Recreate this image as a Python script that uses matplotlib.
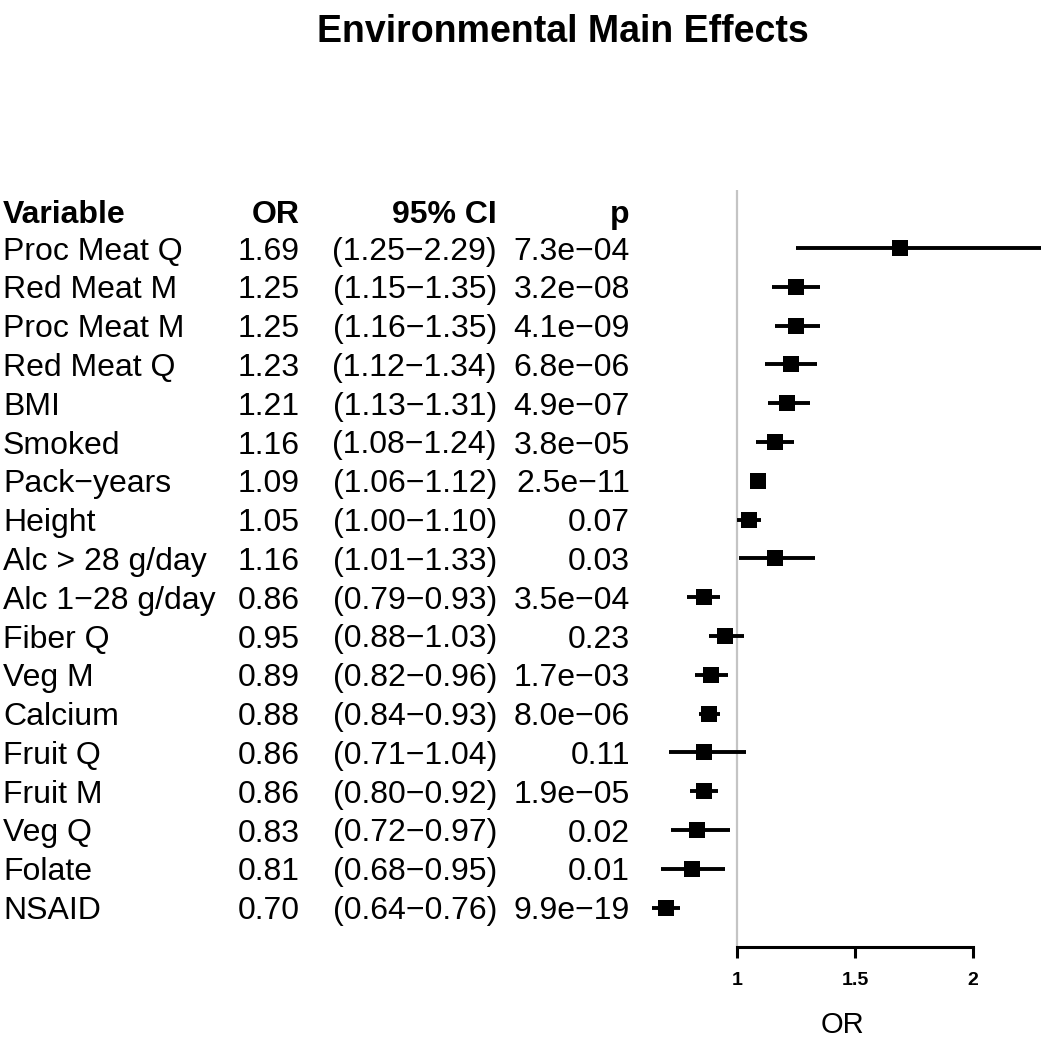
import matplotlib
matplotlib.use('Agg')
import matplotlib.pyplot as plt
import matplotlib.transforms as mtransforms

plt.rcParams['font.family'] = ['Liberation Sans', 'DejaVu Sans']

variables = ['Proc Meat Q', 'Red Meat M', 'Proc Meat M', 'Red Meat Q', 'BMI', 'Smoked',
             'Pack\u2212years', 'Height', 'Alc > 28 g/day', 'Alc 1\u221228 g/day', 'Fiber Q',
             'Veg M', 'Calcium', 'Fruit Q', 'Fruit M', 'Veg Q', 'Folate', 'NSAID']
odds = [1.69, 1.25, 1.25, 1.23, 1.21, 1.16, 1.09, 1.05, 1.16, 0.86, 0.95, 0.89, 0.88,
        0.86, 0.86, 0.83, 0.81, 0.70]
lower = [1.25, 1.15, 1.16, 1.12, 1.13, 1.08, 1.06, 1.00, 1.01, 0.79, 0.88, 0.82, 0.84,
         0.71, 0.80, 0.72, 0.68, 0.64]
upper = [2.29, 1.35, 1.35, 1.34, 1.31, 1.24, 1.12, 1.10, 1.33, 0.93, 1.03, 0.96, 0.93,
         1.04, 0.92, 0.97, 0.95, 0.76]
pvals = ['7.3e\u221204', '3.2e\u221208', '4.1e\u221209', '6.8e\u221206', '4.9e\u221207',
         '3.8e\u221205', '2.5e\u221211', '0.07', '0.03', '3.5e\u221204', '0.23',
         '1.7e\u221203', '8.0e\u221206', '0.11', '1.9e\u221205', '0.02', '0.01', '9.9e\u221219']
headers = ['Variable', 'OR', '95% CI', 'p']
xticks = [1, 1.5, 2]

W, H = 1050, 1041
fig = plt.figure(figsize=(W / 100, H / 100), dpi=100)

# forest panel
left_px, right_px = 640, 1045
top_px, bot_px = 190, 947
ax = fig.add_axes([left_px / W, 1 - bot_px / H, (right_px - left_px) / W, (bot_px - top_px) / H])
px_per_unit = 236.0
ax.set_xlim(1 - (737 - left_px) / px_per_unit, 1 + (right_px - 737) / px_per_unit)
row_h = 38.8
ax.set_ylim((bot_px - 248) / row_h, (top_px - 248) / row_h)

ax.axvline(1, color='#c4c4c4', lw=1.6, zorder=1)

rows = list(range(len(variables)))
for i in rows:
    ax.plot([lower[i], upper[i]], [i, i], color='black', lw=2.8, solid_capstyle='butt', zorder=2)
ax.plot(odds, rows, ls='none', marker='s', ms=12, mew=0, color='black', zorder=3)

for s in ['top', 'left', 'right']:
    ax.spines[s].set_visible(False)
ax.spines['bottom'].set_bounds(1, 2)
ax.spines['bottom'].set_linewidth(2.2)
ax.set_yticks([])
ax.set_xticks(xticks)
ax.set_xticklabels(['1', '1.5', '2'])
ax.tick_params(axis='x', length=8, width=2.2, pad=10, labelsize=14)
for lab in ax.get_xticklabels():
    lab.set_fontweight('bold')
ax.set_xlabel('OR', fontsize=21, labelpad=16)

# table
trans = mtransforms.blended_transform_factory(fig.transFigure, ax.transData)
col_x = [3 / W, 300 / W, 497 / W, 630 / W]
col_ha = ['left', 'right', 'right', 'right']
for x, ha, h in zip(col_x, col_ha, headers):
    ax.text(x, -0.95, h, transform=trans, ha=ha, va='center_baseline', fontsize=23,
            fontweight='bold', clip_on=False)
for i in rows:
    cells = [variables[i], '%.2f' % odds[i],
             '(%.2f\u2212%.2f)' % (lower[i], upper[i]), pvals[i]]
    for x, ha, c in zip(col_x, col_ha, cells):
        ax.text(x, i, c, transform=trans, ha=ha, va='center_baseline', fontsize=23,
                clip_on=False)

fig.text(563 / W, 1 - 32 / H, 'Environmental Main Effects', ha='center', va='center',
         fontsize=27, fontweight='bold')

fig.savefig('out.png', dpi=100)
